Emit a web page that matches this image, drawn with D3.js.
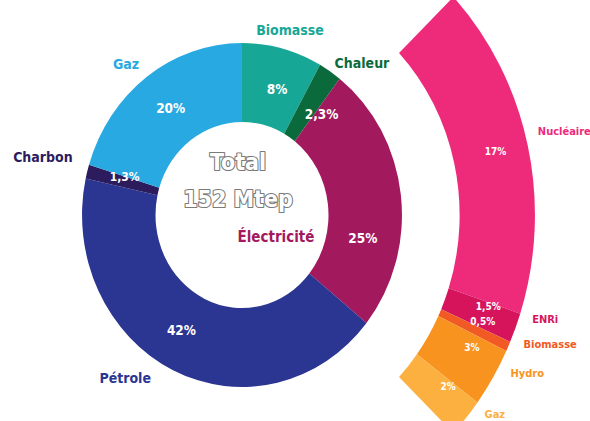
<!DOCTYPE html>
<html><head><meta charset="utf-8">
<script src="https://cdn.jsdelivr.net/npm/d3@7"></script>
<style>
html,body{margin:0;padding:0;background:#fff;}
svg{display:block;}
text{font-family:"DejaVu Sans Condensed","DejaVu Sans",sans-serif;font-weight:bold;font-stretch:condensed;}
</style></head>
<body>
<svg id="chart" width="590" height="421"></svg>
<script>
// ---- data ----
const mainCategories = ["Biomasse", "Chaleur", "Électricité", "Pétrole", "Charbon", "Gaz"];
const mainValues     = [8, 2.3, 25, 42, 1.3, 20];
const mainColors     = ["#17a797", "#0b6a3b", "#a3195e", "#2b3592", "#2c1c5e", "#29a9e1"];

const elecCategories = ["Nucléaire", "ENRi", "Biomasse", "Hydro", "Gaz"];
const elecValues     = [17, 1.5, 0.5, 3, 2];
const elecColors     = ["#ee2a7b", "#d6145c", "#f15a24", "#f7931e", "#fbb040"];

const totalLabel = ["Total", "152 Mtep"];

// ---- layout ----
const W = 590, H = 421;
const cx = 242, cy = 215, sx = 0.93;
const r0 = 93, r1 = 172;      // main ring
const q0 = 234, q1 = 315;     // electricity ring
const deg = Math.PI / 180;
const fmt = v => String(v).replace(".", ",") + "%";

const svg = d3.select("#chart");
const pt = (a, r) => [cx + sx * r * Math.sin(a), cy - r * Math.cos(a)];

// main pie
const pie = d3.pie().sort(null).value(d => d.v);
const mainData = pie(mainValues.map((v, i) => ({v, name: mainCategories[i], color: mainColors[i]})));
const arcMain = d3.arc().innerRadius(r0).outerRadius(r1);

const g = svg.append("g").attr("transform", `translate(${cx},${cy}) scale(${sx},1)`);
g.selectAll("path.main").data(mainData).join("path")
  .attr("class", "main").attr("d", arcMain).attr("fill", d => d.data.color);

// electricity ring: angular span proportional to its share, centred on the horizontal
const elec = mainData[2];
const elecSum = d3.sum(elecValues);
const span = (elec.endAngle - elec.startAngle) * elecSum / elec.data.v;
const pieE = d3.pie().sort(null).value(d => d.v)
  .startAngle(Math.PI / 2 - span / 2).endAngle(Math.PI / 2 + span / 2);
const elecData = pieE(elecValues.map((v, i) => ({v, name: elecCategories[i], color: elecColors[i]})));
const arcElec = d3.arc().innerRadius(q0).outerRadius(q1);
g.selectAll("path.elec").data(elecData).join("path")
  .attr("class", "elec").attr("d", arcElec).attr("fill", d => d.data.color);

// ---- labels ----
const mid = d => (d.startAngle + d.endAngle) / 2;
// per-label angular nudges (deg), radius, anchor
const mainNameLayout = [
  {da: 1, r: 192, anchor: "middle"},
  {da: 7, r: 199, anchor: "middle"},
  null,
  {da: 12, r: 206, anchor: "middle"},
  {da: 3, r: 191, anchor: "end"},
  {da: -3, r: 196, anchor: "middle"}
];
const mainPctNudge = [2, 7, 17, 4, 2.5, 1];

mainData.forEach((d, i) => {
  const L = mainNameLayout[i];
  if (L) {
    const [x, y] = pt(mid(d) + L.da * deg, L.r);
    svg.append("text").attr("x", x).attr("y", y + 5).attr("text-anchor", L.anchor)
      .attr("font-size", 14).attr("fill", d.data.color).text(d.data.name);
  }
  const [px, py] = pt(mid(d) + mainPctNudge[i] * deg, 132);
  svg.append("text").attr("x", px).attr("y", py + 5).attr("text-anchor", "middle")
    .attr("font-size", i === 4 ? 12 : 13.5).attr("fill", "#fff").text(fmt(d.data.v));
});

// Électricité name inside the hole
svg.append("text").attr("x", cx + 34).attr("y", cy + 27).attr("text-anchor", "middle")
  .attr("font-size", 15).attr("fill", mainColors[2]).text(mainCategories[2]);

// total
totalLabel.forEach((t, i) => {
  svg.append("text").attr("x", cx - 4).attr("y", cy - 45 + i * 37).attr("text-anchor", "middle")
    .attr("font-size", 23).attr("fill", "#fff").attr("stroke", "#7a7a7a").attr("stroke-width", 2.2)
    .attr("paint-order", "stroke").attr("stroke-linejoin", "round").text(t);
});

const elecNameNudge = [-2, -2.5, -1.6, -2.4, -2.6];
const elecPctNudge = [-0.5, -2, -2.3, -3, -2.5];
elecData.forEach((d, i) => {
  const [x, y] = pt(mid(d) + elecNameNudge[i] * deg, 329);
  svg.append("text").attr("x", x).attr("y", Math.min(y + 4, H - 3)).attr("text-anchor", "start")
    .attr("font-size", 11).attr("fill", d.data.color).text(d.data.name);
  const [px, py] = pt(mid(d) + elecPctNudge[i] * deg, 280);
  svg.append("text").attr("x", px).attr("y", py + 4).attr("text-anchor", "middle")
    .attr("font-size", 10).attr("fill", "#fff").text(fmt(d.data.v));
});
</script>
</body></html>
